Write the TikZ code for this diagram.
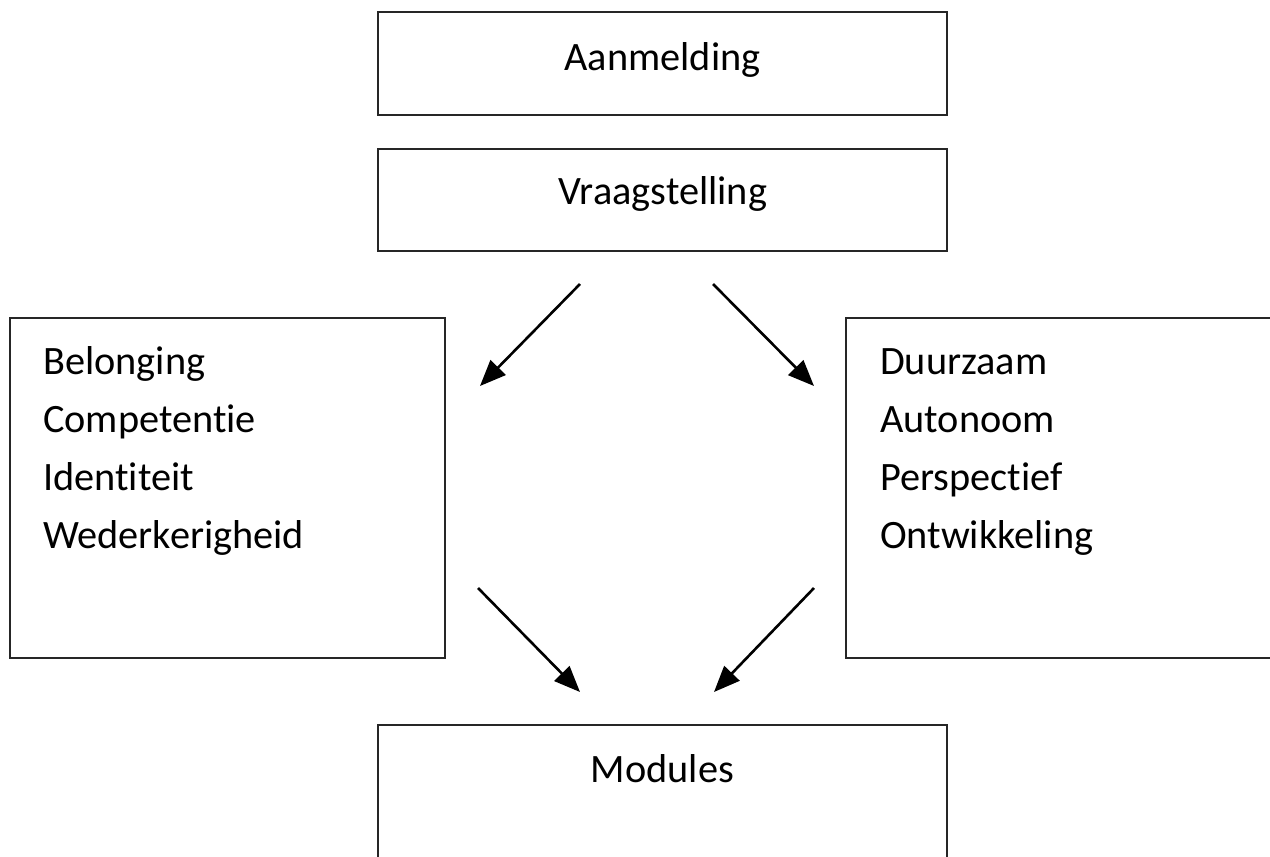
\documentclass[tikz,border=0pt]{standalone}
\usepackage{fontspec}
\setmainfont{Carlito}[Ligatures={NoCommon,NoContextual}]
\usetikzlibrary{arrows.meta}
\begin{document}
\begin{tikzpicture}[x=1pt,y=-1pt,
  boxframe/.style={draw=black!85, line width=2pt, fill=none, inner sep=0pt},
  lbl/.style={font=\fontsize{40.3}{48}\selectfont, inner sep=0pt, text=black},
  arr/.style={line width=2.6pt, -{Triangle[length=26pt,width=21pt]}}]
\clip (0,0) rectangle (1270,857);
\fill[white] (0,0) rectangle (1270,857);
% boxes
\draw[boxframe] (378,12) rectangle (947,115);
\draw[boxframe] (378,149) rectangle (947,251);
\draw[boxframe] (10,318) rectangle (445,658);
\draw[boxframe] (846,318) rectangle (1285,658);
\draw[boxframe] (378,725) rectangle (947,880);
% box anchors as nodes
\node (aan) at (662.5,63.5) {};
\node (vraag) at (662.5,200) {};
\node (links) at (227.5,488) {};
\node (rechts) at (1058,488) {};
\node (mod) at (662.5,790) {};
% labels
\node[lbl, anchor=base] (aant) at (662.5,70) {Aanmelding};
\node[lbl, anchor=base] (vraagt) at (662.5,204) {Vraagstelling};
\node[lbl, anchor=base] (modt) at (662.5,782) {Modules};
\node[lbl, anchor=base west] (l1) at (43,374) {Belonging};
\node[lbl, anchor=base west] (l2) at (43,432) {Competentie};
\node[lbl, anchor=base west] (l3) at (43,490) {Identiteit};
\node[lbl, anchor=base west] (l4) at (43,548) {Wederkerigheid};
\node[lbl, anchor=base west] (r1) at (880,374) {Duurzaam};
\node[lbl, anchor=base west] (r2) at (880,432) {Autonoom};
\node[lbl, anchor=base west] (r3) at (880,490) {Perspectief};
\node[lbl, anchor=base west] (r4) at (880,548) {Ontwikkeling};
% arrow endpoints
\coordinate (a1s) at (580,284);
\coordinate (a1e) at (480,386);
\coordinate (a2s) at (713,284);
\coordinate (a2e) at (814,386);
\coordinate (a3s) at (478,588);
\coordinate (a3e) at (580,692);
\coordinate (a4s) at (814,588);
\coordinate (a4e) at (714,692);
\draw[arr] (a1s) -- (a1e);
\draw[arr] (a2s) -- (a2e);
\draw[arr] (a3s) -- (a3e);
\draw[arr] (a4s) -- (a4e);
\end{tikzpicture}
\end{document}
